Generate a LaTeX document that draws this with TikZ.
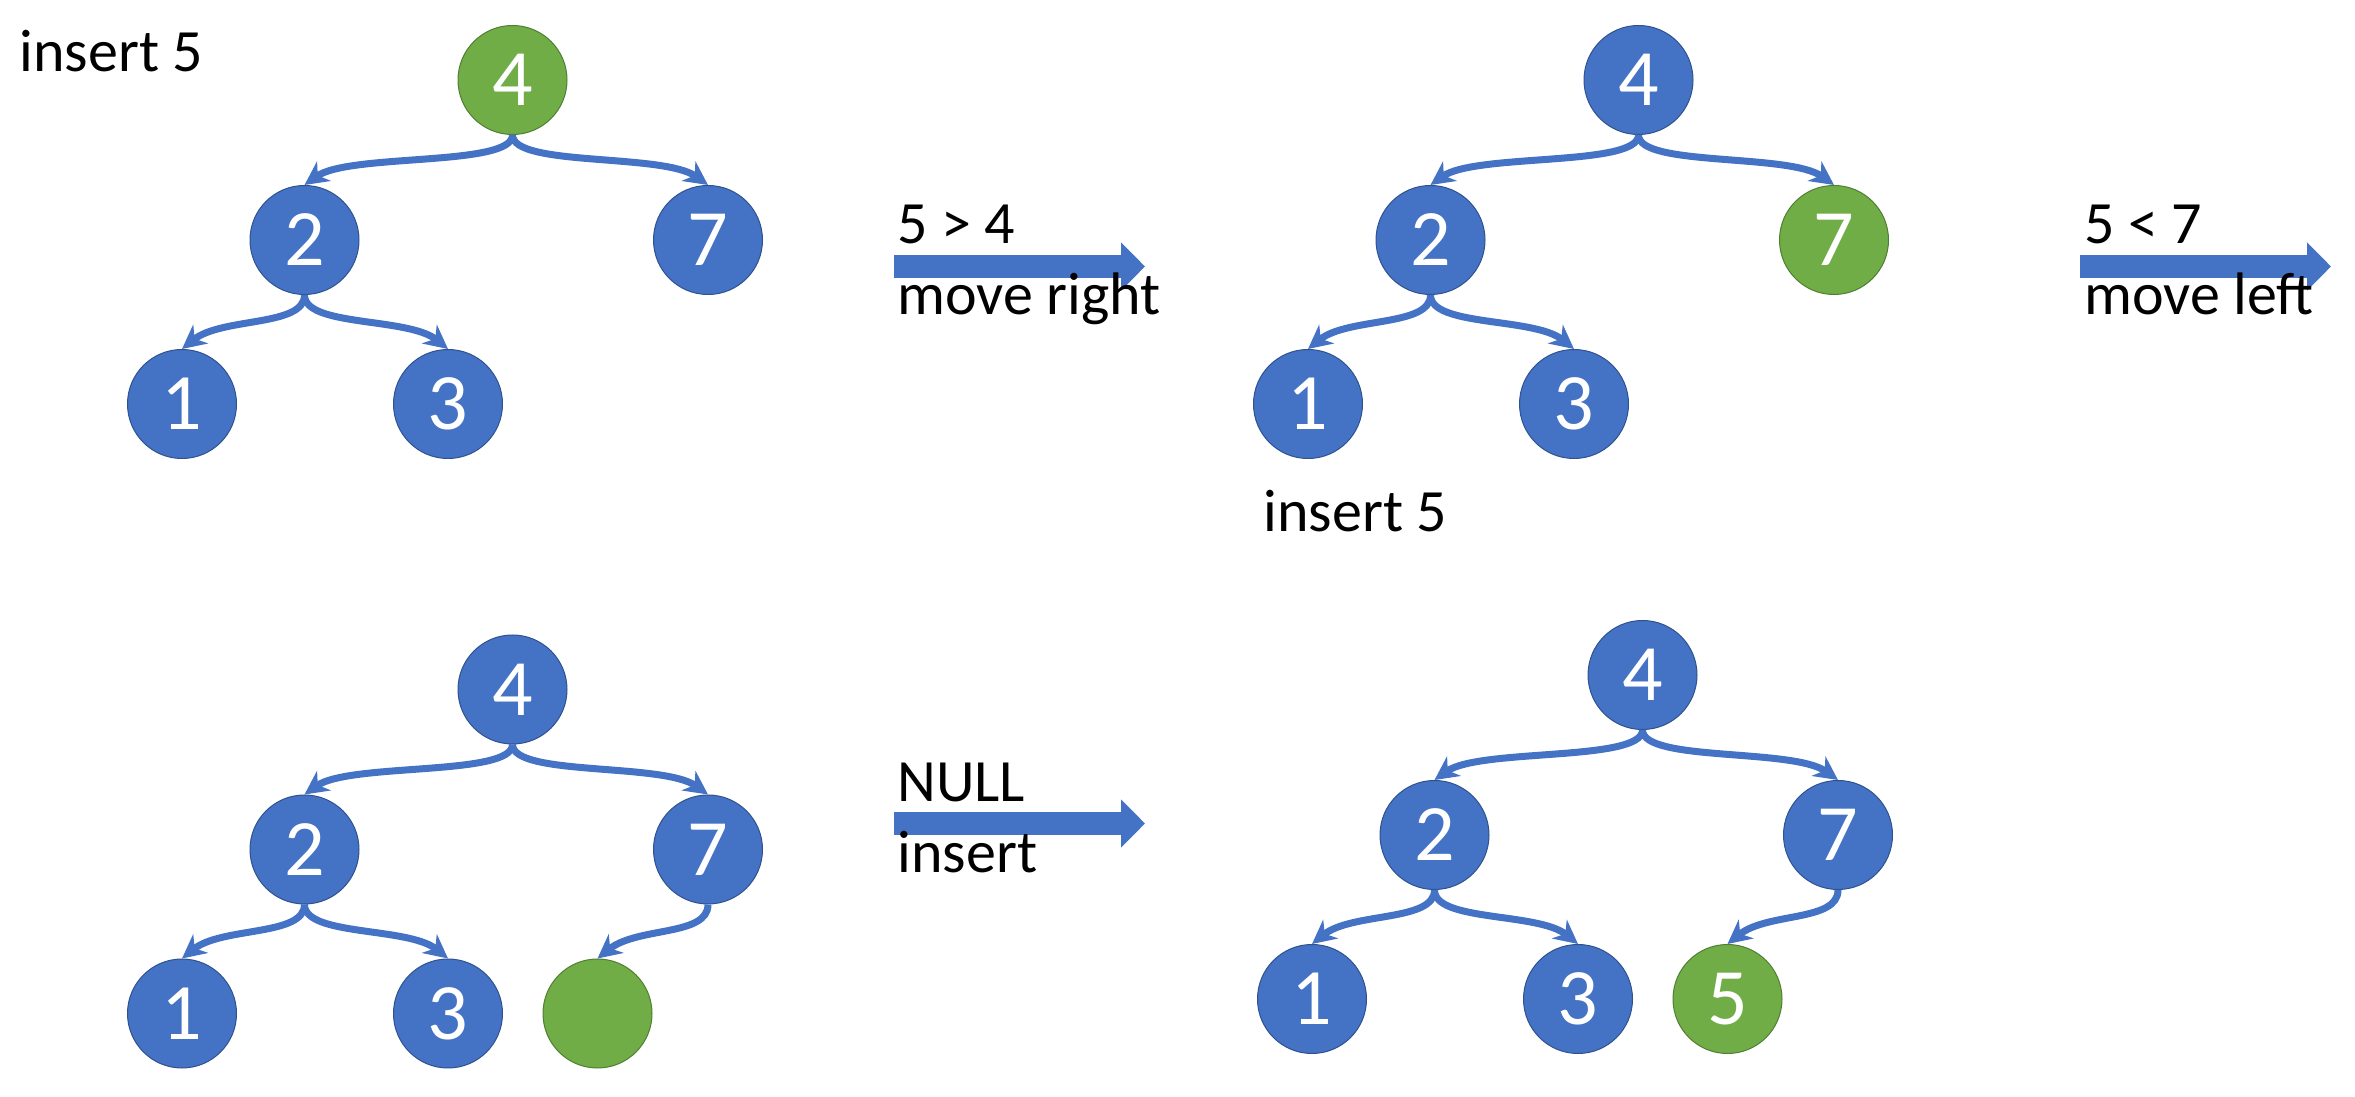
\documentclass[tikz,border=0pt]{standalone}
\usepackage{fontspec}
\setmainfont{Carlito}
\usepackage{tikz}
\usepackage{xcolor}
\usetikzlibrary{arrows.meta}

\definecolor{treeblue}{HTML}{4472C4}
\definecolor{treeblueline}{HTML}{2F528F}
\definecolor{treegreen}{HTML}{70AD47}
\definecolor{treegreenline}{HTML}{507E32}

\tikzset{
  treenode/.style={circle, fill=treeblue, draw=treeblueline, line width=0.4pt,
    minimum size=43.6pt, inner sep=0pt, text=white, font=\fontsize{32}{32}\selectfont},
  visited/.style={treenode, fill=treegreen, draw=treegreenline},
  link/.style={draw=treeblue, line width=2.8pt, -{Stealth[length=9.5pt, width=9.5pt, inset=3pt]}},
  movearrow/.style={draw=treeblue, line width=9.2pt, -{Triangle[length=9.6pt, width=18.8pt]}},
  txt/.style={anchor=base west, inner sep=0pt, font=\fontsize{24}{28}\selectfont}
}

\begin{document}
\begin{tikzpicture}[x=0.4pt, y=-0.4pt]
\useasboundingbox (0,0) rectangle (2355,1097);

% first tree, root visited
\node[visited] (a4) at (512.5,80) {4};
\node[treenode] (a2) at (304.5,240) {2};
\node[treenode] (a7) at (708,240) {7};
\node[treenode] (a1) at (182,404) {1};
\node[treenode] (a3) at (448,404) {3};

\draw[link] (a4.south) .. controls +(0,32) and +(45,-32) .. (a2.north);
\draw[link] (a4.south) .. controls +(0,32) and +(-45,-32) .. (a7.north);
\draw[link] (a2.south) .. controls +(0,32) and +(40,-32) .. (a1.north);
\draw[link] (a2.south) .. controls +(0,32) and +(-40,-32) .. (a3.north);

% second tree, 7 visited
\begin{scope}[shift={(1126,0)}]
\node[treenode] (b4) at (512.5,80) {4};
\node[treenode] (b2) at (304.5,240) {2};
\node[visited] (b7) at (708,240) {7};
\node[treenode] (b1) at (182,404) {1};
\node[treenode] (b3) at (448,404) {3};
\end{scope}

\draw[link] (b4.south) .. controls +(0,32) and +(45,-32) .. (b2.north);
\draw[link] (b4.south) .. controls +(0,32) and +(-45,-32) .. (b7.north);
\draw[link] (b2.south) .. controls +(0,32) and +(40,-32) .. (b1.north);
\draw[link] (b2.south) .. controls +(0,32) and +(-40,-32) .. (b3.north);

% third tree, empty place found
\begin{scope}[shift={(0,609.5)}]
\node[treenode] (c4) at (512.5,80) {4};
\node[treenode] (c2) at (304.5,240) {2};
\node[treenode] (c7) at (708,240) {7};
\node[treenode] (c1) at (182,404) {1};
\node[treenode] (c3) at (448,404) {3};
\node[visited] (c5) at (597.5,404) {};
\end{scope}

\draw[link] (c4.south) .. controls +(0,32) and +(45,-32) .. (c2.north);
\draw[link] (c4.south) .. controls +(0,32) and +(-45,-32) .. (c7.north);
\draw[link] (c2.south) .. controls +(0,32) and +(40,-32) .. (c1.north);
\draw[link] (c2.south) .. controls +(0,32) and +(-40,-32) .. (c3.north);
\draw[link] (c7.south) .. controls +(0,32) and +(40,-32) .. (c5.north);

% fourth tree, 5 inserted
\begin{scope}[shift={(1130,595)}]
\node[treenode] (d4) at (512.5,80) {4};
\node[treenode] (d2) at (304.5,240) {2};
\node[treenode] (d7) at (708,240) {7};
\node[treenode] (d1) at (182,404) {1};
\node[treenode] (d3) at (448,404) {3};
\node[visited] (d5) at (597.5,404) {5};
\end{scope}

\draw[link] (d4.south) .. controls +(0,32) and +(45,-32) .. (d2.north);
\draw[link] (d4.south) .. controls +(0,32) and +(-45,-32) .. (d7.north);
\draw[link] (d2.south) .. controls +(0,32) and +(40,-32) .. (d1.north);
\draw[link] (d2.south) .. controls +(0,32) and +(-40,-32) .. (d3.north);
\draw[link] (d7.south) .. controls +(0,32) and +(40,-32) .. (d5.north);

% step arrows and texts
\coordinate (r0) at (894,266.5);
\coordinate (r9) at (1145,266.5);
\coordinate (s0) at (2080,266.5);
\coordinate (s9) at (2331,266.5);
\coordinate (u0) at (894,823.5);
\coordinate (u9) at (1145,823.5);
\draw[movearrow] (r0) -- (r9);
\draw[movearrow] (s0) -- (s9);
\draw[movearrow] (u0) -- (u9);

\node[txt] (q1) at (19,72) {insert 5};
\node[txt] (q2) at (1263,532) {insert 5};
\node[txt] (r1) at (897,244) {5 > 4};
\node[txt] (r2) at (897,315) {move right};
\node[txt] (s1) at (2084,244) {5 < 7};
\node[txt] (s2) at (2084,315) {move left};
\node[txt] (u1) at (897,802) {NULL};
\node[txt] (u2) at (897,873) {insert};
\end{tikzpicture}
\end{document}
